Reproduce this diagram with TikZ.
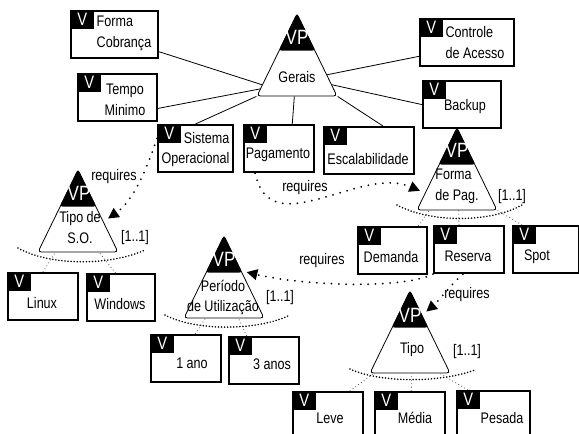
\documentclass[tikz,border=0pt]{standalone}
\usepackage{fontspec}
\setmainfont{Liberation Sans}[FakeStretch=0.82]
\usetikzlibrary{shapes.geometric,arrows.meta,calc}

\begin{document}
\begin{tikzpicture}[x=0.75pt,y=0.75pt,yscale=-1,xscale=1,
  every node/.style={font=\fontsize{11.5}{15.5}\selectfont},
  feat/.style={draw,line width=1.4pt,minimum width=52.5pt,minimum height=35.5pt,inner sep=0pt,anchor=north west},
  vtag/.style={fill=black,text=white,minimum width=18pt,minimum height=14.25pt,inner sep=0pt,anchor=north west,font=\fontsize{13.5}{14}\selectfont},
  vpoint/.style={isosceles triangle,isosceles triangle stretches,shape border rotate=90,minimum width=60pt,minimum height=61.5pt,inner sep=0pt,draw,line width=0.6pt,rounded corners=2.5pt,anchor=apex},
  vptop/.style={fill=black,rounded corners=2pt},
  vptext/.style={text=white,font=\fontsize{15.5}{16}\selectfont},
  orarc/.style={line width=1.3pt,dash pattern=on 0pt off 2.3pt,line cap=round},
  orline/.style={line width=0.6pt,dash pattern=on 0.6pt off 2pt,black!70},
  reqs/.style={line width=1.5pt,dash pattern=on 0pt off 5.5pt,line cap=round,-{Triangle[length=8pt,width=8pt]},shorten >=4pt},
  link/.style={line width=0.6pt}]
\useasboundingbox (0,0) rectangle (579,434);
\clip (0,0) rectangle (579,434);

%Shape: VP Triangles
\node[vpoint] (gerais) at (297,13) {};
\node[vpoint] (sotipo) at (78,169) {};
\node[vpoint] (formapag) at (457,127) {};
\node[vpoint] (periodo) at (224,235) {};
\node[vpoint] (tipo) at (410,290) {};

%Shape: black tops of the VP triangles
\fill[vptop] (gerais.apex) -- ($(gerais.apex)!.45!(gerais.left corner)$) -- ($(gerais.apex)!.45!(gerais.right corner)$) -- cycle;
\fill[vptop] (sotipo.apex) -- ($(sotipo.apex)!.45!(sotipo.left corner)$) -- ($(sotipo.apex)!.45!(sotipo.right corner)$) -- cycle;
\fill[vptop] (formapag.apex) -- ($(formapag.apex)!.45!(formapag.left corner)$) -- ($(formapag.apex)!.45!(formapag.right corner)$) -- cycle;
\fill[vptop] (periodo.apex) -- ($(periodo.apex)!.45!(periodo.left corner)$) -- ($(periodo.apex)!.45!(periodo.right corner)$) -- cycle;
\fill[vptop] (tipo.apex) -- ($(tipo.apex)!.45!(tipo.left corner)$) -- ($(tipo.apex)!.45!(tipo.right corner)$) -- cycle;

%Shape: Feature Boxes
\node[feat,minimum width=65.25pt] (cobranca) at (70,10) {};
\node[feat,minimum width=59.25pt] (tempo) at (77,73) {};
\node[feat,minimum width=70.5pt] (controle) at (419,18) {};
\node[feat,minimum width=58.5pt] (backup) at (422,80) {};
\node[feat,minimum width=56.25pt] (sistema) at (157,124) {};
\node[feat] (pagamento) at (243,124) {};
\node[feat,minimum width=67.5pt] (escala) at (323,126) {};
\node[feat] (linux) at (7,272) {};
\node[feat,minimum width=51pt] (windows) at (86,273) {};
\node[feat,minimum width=51.75pt] (demanda) at (357,226) {};
\node[feat] (reserva) at (433,225) {};
\node[feat,minimum width=49.5pt] (spot) at (512,225) {};
\node[feat] (ano1) at (150,334) {};
\node[feat] (ano3) at (228,336) {};
\node[feat] (leve) at (292,391) {};
\node[feat] (media) at (374,391) {};
\node[feat,minimum width=54.75pt] (pesada) at (456,390) {};

%Shape: V Tags
\node[vtag] (cobranca-v) at (cobranca.north west) {V};
\node[vtag] (tempo-v) at (tempo.north west) {V};
\node[vtag] (controle-v) at (controle.north west) {V};
\node[vtag] (backup-v) at (backup.north west) {V};
\node[vtag] (sistema-v) at (sistema.north west) {V};
\node[vtag] (pagamento-v) at (pagamento.north west) {V};
\node[vtag] (escala-v) at (escala.north west) {V};
\node[vtag] (linux-v) at (linux.north west) {V};
\node[vtag] (windows-v) at (windows.north west) {V};
\node[vtag] (demanda-v) at (demanda.north west) {V};
\node[vtag] (reserva-v) at (reserva.north west) {V};
\node[vtag] (spot-v) at (spot.north west) {V};
\node[vtag] (ano1-v) at (ano1.north west) {V};
\node[vtag] (ano3-v) at (ano3.north west) {V};
\node[vtag] (leve-v) at (leve.north west) {V};
\node[vtag] (media-v) at (media.north west) {V};
\node[vtag] (pesada-v) at (pesada.north west) {V};

%Straight Lines
\draw[link] (cobranca.-21) -- ($(gerais.left corner)!.14!(gerais.apex)$);
\draw[link] (tempo.-15) -- ($(gerais.left corner)!.09!(gerais.apex)$);
\draw[link] (sistema.north) -- (gerais.left corner);
\draw[link] ([xshift=10pt]pagamento.north) -- ([xshift=-2pt]gerais.lower side);
\draw[link] ([xshift=10.5pt]escala.north) -- (gerais.right corner);
\draw[link] (backup.west) -- ($(gerais.right corner)!.14!(gerais.apex)$);
\draw[link] (controle.196) -- ($(gerais.right corner)!.26!(gerais.apex)$);

%Curves: alternative groups
\draw[orarc] (18,248) .. controls (50,266) and (110,266) .. (145,250);
\draw[orarc] (397,205) .. controls (430,223) and (490,223) .. (522,205);
\draw[orarc] (165,315) .. controls (195,331) and (255,331) .. (288,316);
\draw[orarc] (350,369) .. controls (380,383) and (440,383) .. (475,370);

%Straight Lines: alternatives
\draw[orline] (linux.north) -- ($(sotipo.left corner)!.22!(sotipo.right corner)$);
\draw[orline] ([xshift=-4pt]windows.north) -- ($(sotipo.left corner)!.76!(sotipo.right corner)$);
\draw[orline] ([xshift=-7pt]demanda.north east) -- ($(formapag.left corner)!.16!(formapag.right corner)$);
\draw[orline] ([xshift=-7.5pt]reserva.north) -- ($(formapag.left corner)!.52!(formapag.right corner)$);
\draw[orline] ([xshift=7.5pt]spot.north west) -- (formapag.right corner);
\draw[orline] ([xshift=-20pt]ano1.north east) -- ($(periodo.left corner)!.27!(periodo.right corner)$);
\draw[orline] ([xshift=14pt]ano3.north west) -- ($(periodo.left corner)!.68!(periodo.right corner)$);
\draw[orline] ([xshift=-10.5pt]leve.north east) -- ($(tipo.left corner)!.05!(tipo.right corner)$);
\draw[orline] ([xshift=28pt]media.north west) -- ($(tipo.left corner)!.52!(tipo.right corner)$);
\draw[orline] ([xshift=9pt]pesada.north west) -- ($(tipo.left corner)!.87!(tipo.right corner)$);

%Curves: requires
\draw[reqs] (sistema.165) .. controls (150,160) and (135,200) .. ($(sotipo.apex)!.63!(sotipo.right corner)$);
\draw[reqs] (pagamento.226) .. controls (270,245) and (360,165) .. ($(formapag.apex)!.79!(formapag.left corner)$);
\draw[reqs] (reserva.south west) .. controls (400,290) and (300,285) .. ($(periodo.apex)!.43!(periodo.right corner)$);
\draw[reqs] ([xshift=-4.5pt]reserva.south) .. controls (450,285) and (440,300) .. ($(tipo.apex)!.30!(tipo.right corner)$);

% Text Node
\node[vptext] (gerais-vp) at (297,37) {VP};
\node (gerais-t) at (297,77) {Gerais};
\node[vptext] (sotipo-vp) at (79,193) {VP};
\node[align=center] (sotipo-t) at (80,227.5) {Tipo de\\S.O.};
\node[vptext] (formapag-vp) at (457,150) {VP};
\node[align=left] (formapag-t) at (457,186) {Forma\\de Pag.};
\node[vptext] (periodo-vp) at (224,259) {VP};
\node[align=center] (periodo-t) at (223,297.5) {Período\\de Utilização};
\node[vptext] (tipo-vp) at (410,315) {VP};
\node (tipo-t) at (412,350) {Tipo};
% Text Node
\node[align=left] (cobranca-t) at (124,33.5) {Forma\\Cobrança};
\node[align=center] (tempo-t) at (125,99.5) {Tempo\\Minimo};
\node[align=left] (controle-t) at (475,42.5) {Controle\\de Acesso};
\node (backup-t) at (465,107) {Backup};
\node[align=right] (sistema-t) at (195.5,149.5) {Sistema\\Operacional};
\node (pagamento-t) at (278,155) {Pagamento};
\node (escala-t) at (368,159) {Escalabilidade};
\node (linux-t) at (42,303) {Linux};
\node (windows-t) at (120,304) {Windows};
\node (demanda-t) at (391,257) {Demanda};
\node (reserva-t) at (468,256) {Reserva};
\node (spot-t) at (537,257) {Spot};
\node (ano1-t) at (192,363) {1 ano};
\node (ano3-t) at (272,364) {3 anos};
\node (leve-t) at (330,418) {Leve};
\node (media-t) at (415,418) {Média};
\node (pesada-t) at (502,418) {Pesada};
% Text Node
\node (req1) at (114,177) {requires};
\node (req2) at (305,188) {requires};
\node (req3) at (322,261) {requires};
\node (req4) at (467,295) {requires};
\node (card1) at (135,238) {[1..1]};
\node (card2) at (512,197) {[1..1]};
\node (card3) at (280,298) {[1..1]};
\node (card4) at (467,352) {[1..1]};

\end{tikzpicture}
\end{document}
